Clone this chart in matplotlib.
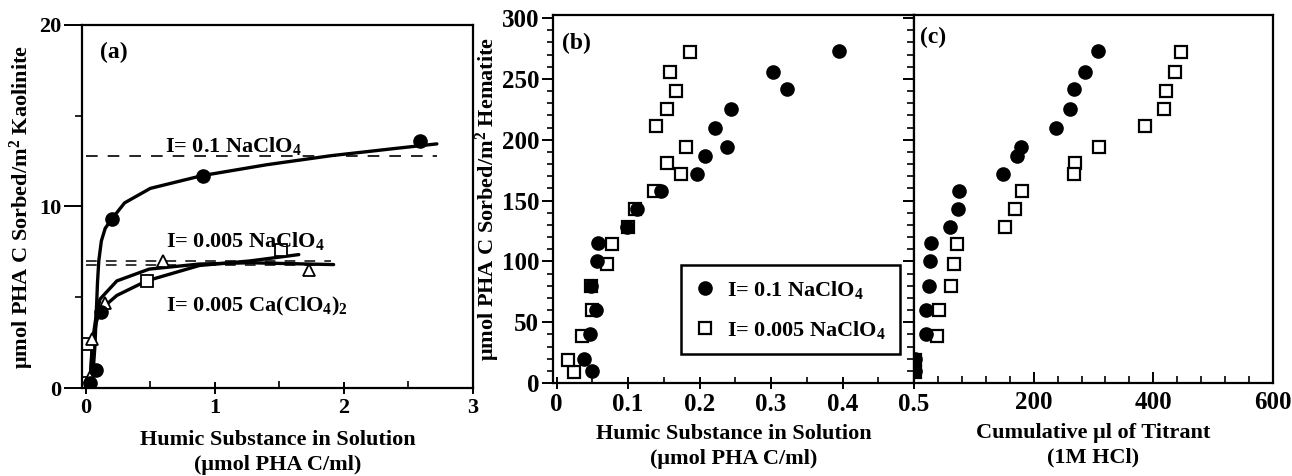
import matplotlib
matplotlib.use("Agg")
import matplotlib.pyplot as plt
from matplotlib.ticker import MultipleLocator, FixedLocator

plt.rcParams['font.family'] = ['Liberation Serif', 'DejaVu Serif']
plt.rcParams['font.weight'] = 'bold'
plt.rcParams['mathtext.fontset'] = 'custom'
plt.rcParams['mathtext.rm'] = 'Liberation Serif:bold'
plt.rcParams['mathtext.it'] = 'Liberation Serif:bold'
plt.rcParams['mathtext.bf'] = 'Liberation Serif:bold'
plt.rcParams['mathtext.default'] = 'rm'

# ---------------- data: panel (a) kaolinite ----------------
kaol_na01_x = [0.03, 0.08, 0.12, 0.20, 0.91, 2.59]
kaol_na01_y = [0.3, 1.0, 4.2, 9.3, 11.7, 13.6]
kaol_na0005_x = [0.02, 0.02, 0.47, 1.51]
kaol_na0005_y = [0.3, 2.4, 5.9, 7.6]
kaol_ca_x = [0.03, 0.05, 0.15, 0.60, 1.73]
kaol_ca_y = [0.6, 2.7, 4.7, 7.0, 6.5]

fit_na01_x = [0.04, 0.055, 0.07, 0.08, 0.09, 0.10, 0.12, 0.15, 0.20, 0.30, 0.50, 0.90, 1.40, 1.90, 2.40, 2.72]
fit_na01_y = [0.0, 0.8, 2.3, 4.0, 5.8, 7.0, 8.1, 8.8, 9.3, 10.2, 11.0, 11.7, 12.3, 12.8, 13.2, 13.45]
fit_na0005_x = [0.03, 0.05, 0.08, 0.11, 0.24, 0.47, 0.88, 1.27, 1.65]
fit_na0005_y = [0.0, 2.2, 3.6, 4.3, 5.1, 5.9, 6.75, 7.0, 7.35]
fit_ca_x = [0.03, 0.05, 0.08, 0.11, 0.24, 0.49, 0.88, 1.27, 1.92]
fit_ca_y = [0.0, 2.5, 4.0, 4.9, 5.9, 6.55, 6.83, 6.9, 6.8]

plateau_na01 = 12.8
plateau_na01_xmax = 2.72
plateau_0005 = [7.0, 6.75]
plateau_0005_xmax = 1.9

# ---------------- data: panels (b) and (c) hematite ----------------
hem_na01_sorbed = [10, 20, 40, 60, 80, 100, 115, 128, 143, 158, 172, 187, 194, 210, 225, 242, 256, 273]
hem_na01_soln = [0.050, 0.039, 0.047, 0.055, 0.048, 0.057, 0.058, 0.098, 0.113, 0.146,
                 0.197, 0.208, 0.238, 0.222, 0.244, 0.323, 0.303, 0.395]
hem_na01_titrant = [1, 2, 20, 20, 25, 27, 29, 60, 73, 75, 149, 172, 179, 238, 261, 268, 285, 307]

hem_na0005_sorbed = [9, 19, 39, 60, 80, 98, 114, 128, 143, 158, 181, 172, 194, 211, 225, 240, 256, 272]
hem_na0005_soln = [0.025, 0.016, 0.035, 0.050, 0.048, 0.070, 0.077, 0.100, 0.110, 0.136,
                   0.155, 0.174, 0.181, 0.139, 0.155, 0.167, 0.159, 0.187]
hem_na0005_titrant = [1, 2, 39, 42, 61.5, 67, 71.5, 152.5, 169, 180, 269, 267, 310, 386.6, 417, 421.8, 436, 447]

label_na01 = r'I= 0.1 NaClO$_4$'
label_na0005 = r'I= 0.005 NaClO$_4$'
label_ca = r'I= 0.005 Ca(ClO$_4$)$_2$'

W, H = 1292, 476
fig = plt.figure(figsize=(W / 100, H / 100), dpi=100)

def ax_at(l, t, r, b):
    return fig.add_axes([l / W, 1 - b / H, (r - l) / W, (b - t) / H])

ax_a = ax_at(82, 25, 473, 388)
ax_b = ax_at(553, 15, 914, 383)
ax_c = ax_at(914, 15, 1273, 383)

TICK_A = 16
TICK_BC = 18
LAB_FS = 16
LSP = 1.35

for ax in (ax_a, ax_b, ax_c):
    for s in ax.spines.values():
        s.set_linewidth(1.6)

# ---------------- panel (a) ----------------
ax_a.plot([0, plateau_na01_xmax], [plateau_na01] * 2, color='black', lw=1.2, ls=(0, (7, 6)))
for yv in plateau_0005:
    ax_a.plot([0, plateau_0005_xmax], [yv] * 2, color='black', lw=1.1, ls=(0, (7, 6)))
ax_a.plot(fit_na01_x, fit_na01_y, color='black', lw=2.4, solid_capstyle='round', solid_joinstyle='round')
ax_a.plot(fit_na0005_x, fit_na0005_y, color='black', lw=2.4, solid_capstyle='round', solid_joinstyle='round')
ax_a.plot(fit_ca_x, fit_ca_y, color='black', lw=2.4, solid_capstyle='round', solid_joinstyle='round')
ax_a.plot(kaol_na0005_x, kaol_na0005_y, ls='none', marker='s', ms=8, mfc='white', mec='black', mew=1.3)
ax_a.plot(kaol_ca_x, kaol_ca_y, ls='none', marker='^', ms=8, mfc='white', mec='black', mew=1.3)
ax_a.plot(kaol_na01_x, kaol_na01_y, ls='none', marker='o', ms=9.5, mfc='black', mec='black')

ax_a.set_xlim(-0.03, 3.0)
ax_a.set_ylim(0, 20)
ax_a.xaxis.set_major_locator(MultipleLocator(1))
ax_a.xaxis.set_minor_locator(MultipleLocator(0.5))
ax_a.yaxis.set_major_locator(MultipleLocator(10))
ax_a.yaxis.set_minor_locator(MultipleLocator(5))
ax_a.tick_params(axis='y', which='major', direction='out', length=13, width=1.4, labelsize=TICK_A, pad=2)
ax_a.tick_params(axis='y', which='minor', direction='out', length=5, width=1.2)
ax_a.tick_params(axis='x', which='major', direction='inout', length=9, width=1.4, labelsize=TICK_A, pad=3)
ax_a.tick_params(axis='x', which='minor', direction='in', length=5, width=1.2)
ax_a.set_ylabel('\u03bcmol PHA C Sorbed/m$^2$ Kaolinite', fontsize=LAB_FS, fontweight='bold', labelpad=2)
ax_a.set_xlabel('Humic Substance in Solution\n(\u03bcmol PHA C/ml)', fontsize=LAB_FS, fontweight='bold',
                labelpad=8, linespacing=LSP)
ax_a.text(0.046, 0.923, '(a)', transform=ax_a.transAxes, fontsize=17, fontweight='bold', va='center')
ax_a.text(0.61, 13.0, label_na01, fontsize=16, fontweight='bold', va='baseline')
ax_a.text(0.623, 7.76, label_na0005, fontsize=16, fontweight='bold', va='baseline')
ax_a.text(0.623, 4.24, label_ca, fontsize=16, fontweight='bold', va='baseline')

# ---------------- panel (b) ----------------
ax_b.plot(hem_na0005_soln, hem_na0005_sorbed, ls='none', marker='s', ms=9, mfc='white', mec='black',
          mew=1.6, label=label_na0005)
ax_b.plot(hem_na01_soln, hem_na01_sorbed, ls='none', marker='o', ms=9.5, mfc='black', mec='black',
          label=label_na01)
ax_b.set_xlim(-0.005, 0.5)
ax_b.set_ylim(0, 302.5)
ax_b.xaxis.set_major_locator(FixedLocator([0, 0.1, 0.2, 0.3, 0.4, 0.5]))
ax_b.set_xticklabels(['0', '0.1', '0.2', '0.3', '0.4', '0.5'])
ax_b.xaxis.set_minor_locator(MultipleLocator(0.05))
ax_b.yaxis.set_major_locator(MultipleLocator(50))
ax_b.yaxis.set_minor_locator(MultipleLocator(10))
ax_b.tick_params(axis='y', which='major', direction='out', length=8, width=1.4, labelsize=TICK_BC, pad=2)
ax_b.tick_params(axis='y', which='minor', direction='out', length=4, width=1.2)
ax_b.tick_params(axis='x', which='major', direction='inout', length=8, width=1.4, labelsize=TICK_BC, pad=3)
ax_b.tick_params(axis='x', which='minor', direction='in', length=4, width=1.2)
ax_b.set_ylabel('\u03bcmol PHA C Sorbed/m$^2$ Hematite', fontsize=LAB_FS, fontweight='bold', labelpad=0)
ax_b.set_xlabel('Humic Substance in Solution\n(\u03bcmol PHA C/ml)', fontsize=LAB_FS, fontweight='bold',
                labelpad=6, linespacing=LSP)
ax_b.text(0.025, 0.924, '(b)', transform=ax_b.transAxes, fontsize=17, fontweight='bold', va='center')

handles, labels = ax_b.get_legend_handles_labels()
leg = ax_b.legend(handles[::-1], labels[::-1], loc='lower left', bbox_to_anchor=(0.354, 0.079),
                  borderaxespad=0, frameon=True, fancybox=False, edgecolor='black', fontsize=16,
                  handletextpad=0.5, borderpad=0.6, labelspacing=0.8, handlelength=1.0)
leg.get_frame().set_linewidth(1.8)
leg.get_frame().set_alpha(1)

# ---------------- panel (c) ----------------
ax_c.plot(hem_na0005_titrant, hem_na0005_sorbed, ls='none', marker='s', ms=9, mfc='white', mec='black', mew=1.6)
ax_c.plot(hem_na01_titrant, hem_na01_sorbed, ls='none', marker='o', ms=9.5, mfc='black', mec='black')
ax_c.set_xlim(0, 600)
ax_c.set_ylim(0, 302.5)
ax_c.xaxis.set_major_locator(FixedLocator([200, 400, 600]))
ax_c.xaxis.set_minor_locator(MultipleLocator(40))
ax_c.yaxis.set_major_locator(MultipleLocator(50))
ax_c.yaxis.set_minor_locator(MultipleLocator(10))
ax_c.tick_params(axis='x', which='major', direction='in', length=8, width=1.4, labelsize=TICK_BC, pad=6)
ax_c.tick_params(axis='x', which='minor', direction='in', length=5, width=1.2)
# ticks on the shared border point back into panel (b)
ax_c.tick_params(axis='y', which='major', direction='out', length=8, width=1.4, left=True, labelleft=False)
ax_c.tick_params(axis='y', which='minor', direction='out', length=5, width=1.2, left=True)
ax_c.set_xlabel('Cumulative \u03bcl of Titrant\n(1M HCl)', fontsize=LAB_FS, fontweight='bold',
                labelpad=6, linespacing=LSP)
ax_c.text(0.017, 0.94, '(c)', transform=ax_c.transAxes, fontsize=17, fontweight='bold', va='center')

fig.savefig('out.png', dpi=100)
